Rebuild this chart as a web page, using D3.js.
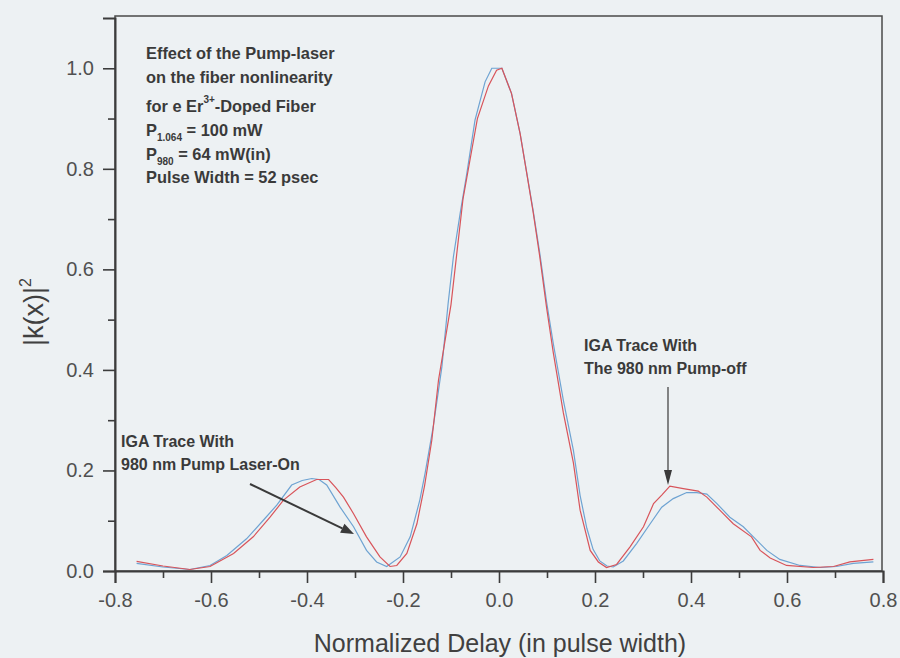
<!DOCTYPE html>
<html>
<head>
<meta charset="utf-8">
<script src="https://cdn.jsdelivr.net/npm/d3@7/dist/d3.min.js"></script>
<style>
  html, body { margin: 0; padding: 0; background: #edf1f3; }
  svg { display: block; }
  text { font-family: "Liberation Sans", Arial, sans-serif; }
</style>
</head>
<body>
<svg id="chart" width="900" height="658"></svg>
<script>
// IGA trace, 980 nm pump laser on (blue)
const delayOn = [-0.755, -0.70, -0.644, -0.602, -0.567, -0.526, -0.491, -0.463, -0.432, -0.41, -0.39, -0.375,
  -0.359, -0.331, -0.303, -0.276, -0.255, -0.234, -0.206, -0.185, -0.165, -0.154, -0.137, -0.119, -0.106,
  -0.095, -0.081, -0.067, -0.05, -0.029, -0.015, 0.006, 0.026, 0.044, 0.058, 0.071, 0.085, 0.099, 0.113,
  0.134, 0.155, 0.169, 0.183, 0.196, 0.21, 0.225, 0.238, 0.259, 0.287, 0.315, 0.339, 0.363, 0.391, 0.412,
  0.433, 0.454, 0.481, 0.509, 0.53, 0.558, 0.585, 0.627, 0.669, 0.703, 0.738, 0.78];
const kOn = [0.015, 0.008, 0.003, 0.011, 0.031, 0.064, 0.101, 0.131, 0.171, 0.180, 0.184, 0.182,
  0.171, 0.127, 0.088, 0.041, 0.018, 0.009, 0.028, 0.068, 0.141, 0.194, 0.287, 0.406, 0.532,
  0.625, 0.711, 0.791, 0.897, 0.973, 1.0, 1.0, 0.95, 0.87, 0.791, 0.718, 0.632, 0.536, 0.453,
  0.34, 0.24, 0.15, 0.085, 0.043, 0.02, 0.01, 0.008, 0.02, 0.055, 0.094, 0.127, 0.144, 0.156, 0.156,
  0.153, 0.134, 0.107, 0.088, 0.068, 0.041, 0.023, 0.011, 0.007, 0.009, 0.015, 0.018];

// IGA trace, 980 nm pump off (red)
const delayOff = [-0.755, -0.70, -0.644, -0.602, -0.553, -0.512, -0.477, -0.449, -0.415, -0.38, -0.355,
  -0.34, -0.324, -0.303, -0.276, -0.248, -0.227, -0.213, -0.192, -0.171, -0.155, -0.14, -0.126, -0.10,
  -0.075, -0.06, -0.045, -0.022, -0.005, 0.006, 0.026, 0.044, 0.058, 0.071, 0.085, 0.099, 0.113, 0.134,
  0.155, 0.169, 0.19, 0.207, 0.224, 0.245, 0.273, 0.301, 0.322, 0.339, 0.356, 0.384, 0.415, 0.433, 0.46,
  0.488, 0.526, 0.544, 0.565, 0.599, 0.655, 0.697, 0.731, 0.78];
const kOff = [0.019, 0.01, 0.003, 0.009, 0.035, 0.068, 0.107, 0.141, 0.167, 0.182, 0.182,
  0.166, 0.147, 0.114, 0.068, 0.028, 0.009, 0.011, 0.035, 0.094, 0.17, 0.26, 0.38, 0.53,
  0.74, 0.82, 0.90, 0.965, 0.996, 1.0, 0.95, 0.87, 0.79, 0.715, 0.625, 0.525, 0.435, 0.315,
  0.215, 0.121, 0.041, 0.018, 0.007, 0.013, 0.048, 0.088, 0.134, 0.151, 0.169, 0.164, 0.159, 0.147, 0.121,
  0.094, 0.068, 0.041, 0.026, 0.011, 0.007, 0.009, 0.018, 0.023];

const xTicks = [-0.8, -0.6, -0.4, -0.2, 0.0, 0.2, 0.4, 0.6, 0.8];
const xMinor = [-0.7, -0.5, -0.3, -0.1, 0.1, 0.3, 0.5, 0.7];
const yTicks = [0.0, 0.2, 0.4, 0.6, 0.8, 1.0];
const yMinor = [0.1, 0.3, 0.5, 0.7, 0.9];

const infoLines = [
  [{t: "Effect of the Pump-laser"}],
  [{t: "on the fiber nonlinearity"}],
  [{t: "for e Er"}, {t: "3+", sup: true}, {t: "-Doped Fiber"}],
  [{t: "P"}, {t: "1.064", sub: true}, {t: " = 100 mW"}],
  [{t: "P"}, {t: "980", sub: true}, {t: " = 64 mW(in)"}],
  [{t: "Pulse Width = 52 psec"}]
];

const svg = d3.select("#chart");
const plotL = 115, plotR = 883, plotT = 18, plotB = 571;

const x = d3.scaleLinear().domain([-0.8, 0.8]).range([plotL, plotR]);
const y = d3.scaleLinear().domain([0, 1.1]).range([plotB, plotT]);

svg.append("rect").attr("width", 900).attr("height", 658).attr("fill", "#edf1f3");

// plot frame
svg.append("rect")
  .attr("x", plotL).attr("y", 16)
  .attr("width", 882 - plotL).attr("height", plotB - 16)
  .attr("fill", "none").attr("stroke", "#4a4a4a").attr("stroke-width", 1.5);

// axes with major and minor ticks; plain hyphen for negatives
const fmt = v => d3.format(".1f")(v).replace("\u2212", "-");
svg.append("g").attr("transform", `translate(0,${plotB})`)
  .call(d3.axisBottom(x).tickValues(xTicks).tickFormat(fmt).tickSize(12).tickPadding(10));
svg.append("g").attr("transform", `translate(0,${plotB})`)
  .call(d3.axisBottom(x).tickValues(xMinor).tickFormat("").tickSize(7))
  .call(g => g.select(".domain").remove());
svg.append("g").attr("transform", `translate(${plotL},0)`)
  .call(d3.axisLeft(y).tickValues(yTicks).tickFormat(fmt).tickSize(12).tickPadding(9));
svg.append("g").attr("transform", `translate(${plotL},0)`)
  .call(d3.axisLeft(y).tickValues(yMinor).tickFormat("").tickSize(7))
  .call(g => g.select(".domain").remove());

svg.selectAll(".domain").attr("stroke", "#3c3c3c").attr("stroke-width", 2);
svg.selectAll(".tick line").attr("stroke", "#3c3c3c").attr("stroke-width", 1.6);
svg.selectAll(".tick text")
  .attr("font-size", 20).attr("fill", "#505050")
  .attr("font-family", "'Liberation Sans', Arial, sans-serif");

// traces
const line = d3.line().x(d => x(d[0])).y(d => y(d[1]));
svg.append("path")
  .datum(d3.zip(delayOn, kOn))
  .attr("d", line).attr("fill", "none")
  .attr("stroke", "#6ea3d2").attr("stroke-width", 1.2);
svg.append("path")
  .datum(d3.zip(delayOff, kOff))
  .attr("d", line).attr("fill", "none")
  .attr("stroke", "#d8545a").attr("stroke-width", 1.2);

// axis titles
svg.append("text")
  .attr("x", 500).attr("y", 652).attr("text-anchor", "middle")
  .attr("font-size", 25).attr("fill", "#404040")
  .text("Normalized Delay (in pulse width)");

const yTitle = svg.append("text")
  .attr("transform", "translate(43,312) rotate(-90)")
  .attr("text-anchor", "middle")
  .attr("font-size", 27).attr("fill", "#404040");
yTitle.append("tspan").text("|k(x)|");
yTitle.append("tspan").attr("font-size", 16).attr("dy", -12).text("2");

// info block
const info = svg.append("g").attr("fill", "#3a3a3a").attr("font-weight", "bold").attr("font-size", 16.4);
const baselines = [59, 83, 112, 136, 160, 183];
infoLines.forEach((parts, i) => {
  const t = info.append("text").attr("x", 146).attr("y", baselines[i]);
  parts.forEach(p => {
    const s = t.append("tspan").text(p.t);
    if (p.sup) s.attr("font-size", 10).attr("baseline-shift", "9");
    if (p.sub) s.attr("font-size", 10).attr("baseline-shift", "-5");
  });
});

// annotations
const ann = svg.append("g").attr("fill", "#3a3a3a").attr("font-weight", "bold").attr("font-size", 16);
ann.append("text").attr("x", 121).attr("y", 447).text("IGA Trace With");
ann.append("text").attr("x", 121).attr("y", 470).text("980 nm Pump Laser-On");
ann.append("text").attr("x", 584).attr("y", 351).text("IGA Trace With");
ann.append("text").attr("x", 584).attr("y", 374).text("The 980 nm Pump-off");

function arrow(x1, y1, x2, y2, w, headLen, headHalf) {
  const a = Math.atan2(y2 - y1, x2 - x1);
  const bx = x2 - headLen * Math.cos(a), by = y2 - headLen * Math.sin(a);
  svg.append("line").attr("x1", x1).attr("y1", y1).attr("x2", bx).attr("y2", by)
    .attr("stroke", "#3a3a3a").attr("stroke-width", w);
  const px = -Math.sin(a) * headHalf, py = Math.cos(a) * headHalf;
  svg.append("path")
    .attr("d", `M${x2},${y2}L${bx + px},${by + py}L${bx - px},${by - py}Z`)
    .attr("fill", "#3a3a3a");
}
arrow(250, 484, 354, 534, 2, 13, 5);
arrow(668, 387, 668, 485, 1.2, 15, 4);
</script>
</body>
</html>
